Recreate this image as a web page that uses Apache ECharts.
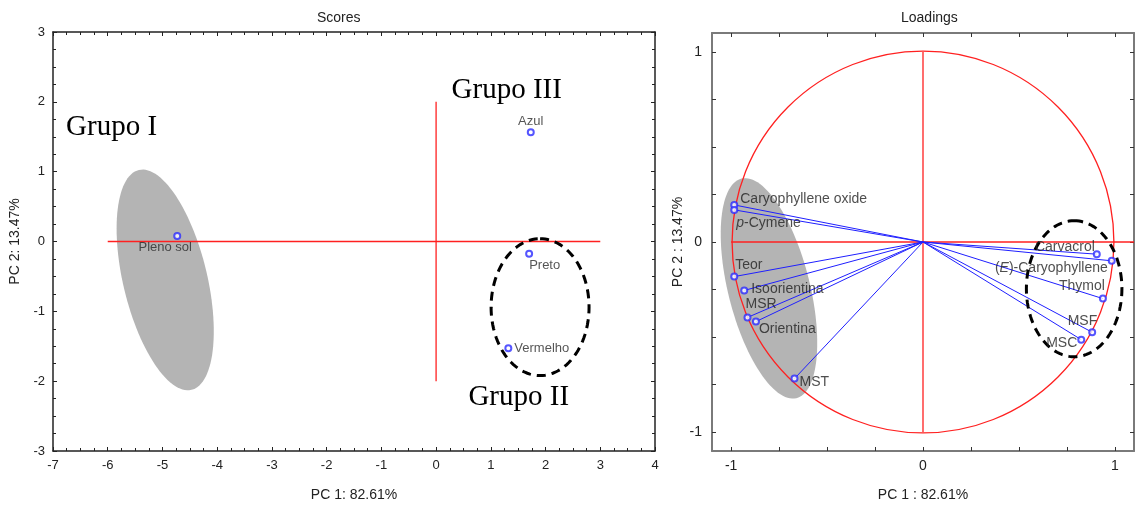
<!DOCTYPE html>
<html>
<head>
<meta charset="utf-8">
<script src="https://cdn.jsdelivr.net/npm/echarts@6/dist/echarts.min.js"></script>
<style>
html,body{margin:0;padding:0;background:#fff;}
#chart{width:1135px;height:507px;}
</style>
</head>
<body>
<div id="chart"></div>
<script>
// ---------- DATA ----------
const scoreNames = ['Pleno sol', 'Azul', 'Preto', 'Vermelho'];
const scorePC1 = [-4.73, 1.73, 1.70, 1.32];
const scorePC2 = [0.08, 1.565, -0.175, -1.53];

const loadNames = ['Caryophyllene oxide', 'p-Cymene', 'Teor', 'Isoorientina', 'MSR', 'Orientina', 'MST',
                   'Carvacrol', '(E)-Caryophyllene', 'Thymol', 'MSF', 'MSC'];
const loadPC1 = [-0.984, -0.984, -0.984, -0.932, -0.915, -0.871, -0.670, 0.906, 0.984, 0.938, 0.882, 0.825];
const loadPC2 = [0.195, 0.169, -0.182, -0.255, -0.397, -0.419, -0.719, -0.064, -0.099, -0.298, -0.475, -0.514];

const groupNames = ['Grupo I', 'Grupo III', 'Grupo II'];
const groupPC1 = [-5.93, 1.29, 1.51];
const groupPC2 = [1.63, 2.16, -2.23];

const scoreXTicks = [-7, -6, -5, -4, -3, -2, -1, 0, 1, 2, 3, 4];
const scoreYTicks = [-3, -2, -1, 0, 1, 2, 3];
const loadTickLabels = [-1, 0, 1];
const loadMinorTicks = [-1, -0.75, -0.5, -0.25, 0, 0.25, 0.5, 0.75, 1];

// group ellipses (centre, half-axis vectors in data units)
const scoreGreyEllipse = {cx: -4.95, cy: -0.55, ux: -0.48, uy: 1.574, vx: 0.747, vy: 0.138};
const scoreDashEllipse = {cx: 1.90, cy: -0.94, ux: 0, uy: 0.98, vx: 0.895, vy: 0};
const loadGreyEllipse = {cx: -0.803, cy: -0.244, ux: -0.143, uy: 0.578, vx: 0.207, vy: 0.051};
const loadDashEllipse = {cx: 0.788, cy: -0.246, ux: 0, uy: 0.358, vx: 0.249, vy: 0};

// reference lines (data units): [x1, y1, x2, y2]
const scoreCross = [[-6, 0, 3, 0], [0, -2, 0, 2]];
const loadCross = [[-1, 0, 1.1, 0], [0, 1, 0, -1]];

// ---------- STYLE / LABEL PLACEMENT ----------
const scoreLabelPlace = [
  {align: 'center', offset: [-12, 12]},
  {align: 'center', offset: [0, -11]},
  {align: 'left', offset: [0, 12]},
  {align: 'left', offset: [6, 0]}
];
const loadLabelPlace = [
  {align: 'left', offset: [6, -6]},
  {align: 'left', offset: [2, 13]},
  {align: 'left', offset: [1, -11]},
  {align: 'left', offset: [7, -1]},
  {align: 'left', offset: [-2, -13]},
  {align: 'left', offset: [3, 8]},
  {align: 'left', offset: [5, 4]},
  {align: 'right', offset: [-2, -7]},
  {align: 'right', offset: [-4, 7]},
  {align: 'right', offset: [2, -12]},
  {align: 'right', offset: [5, -11]},
  {align: 'right', offset: [-4, 3]}
];

const SANS = '"Liberation Sans", Arial, sans-serif';
const SERIF = '"Liberation Serif", "Times New Roman", serif';
const BLUE = '#2b2bff';
const RED = '#ff2020';
const GREY = '#b4b4b4';

function axisCommon(color, lw) {
  return {
    axisLine: {show: true, onZero: false, lineStyle: {color: color, width: lw}},
    splitLine: {show: false},
    axisPointer: {show: false}
  };
}

function scoreAxis(kind, pos, showLabel) {
  const isX = kind === 'x';
  const vals = isX ? scoreXTicks : scoreYTicks;
  return Object.assign({
    type: 'value', gridIndex: 0, position: pos,
    min: vals[0], max: vals[vals.length - 1], interval: 1,
    axisTick: {show: true, inside: true, length: 4, lineStyle: {color: '#222'}},
    minorTick: {show: true, splitNumber: 4, length: 3, lineStyle: {color: '#222'}},
    axisLabel: {show: showLabel, color: '#222', fontSize: 13, fontFamily: SANS, margin: 8},
    name: showLabel ? (isX ? 'PC 1: 82.61%' : 'PC 2: 13.47%') : '',
    nameLocation: 'middle', nameGap: isX ? 37 : 27,
    nameTextStyle: {color: '#222', fontSize: 14, fontFamily: SANS}
  }, axisCommon('#222', 1.5));
}

function loadAxis(kind, pos, showLabel) {
  const isX = kind === 'x';
  return Object.assign({
    type: 'value', gridIndex: 1, position: pos,
    min: -1.1, max: 1.1,
    axisTick: {show: true, inside: true, length: 4, customValues: loadMinorTicks, lineStyle: {color: '#333'}},
    axisLabel: {show: showLabel, customValues: loadTickLabels, color: '#222', fontSize: 14, fontFamily: SANS, margin: isX ? 8 : 10},
    name: showLabel ? (isX ? 'PC 1 : 82.61%' : 'PC 2 : 13.47%') : '',
    nameLocation: 'middle', nameGap: isX ? 37 : 27,
    nameTextStyle: {color: '#222', fontSize: 14, fontFamily: SANS}
  }, axisCommon('#7a7a7a', 2));
}

function ellipseSeries(e, xi, yi, style, z) {
  return {
    type: 'custom', xAxisIndex: xi, yAxisIndex: yi, z: z, silent: true, clip: false,
    data: [[e.cx, e.cy]],
    renderItem: function (params, api) {
      const pts = [];
      const N = 120;
      for (let k = 0; k < N; k++) {
        const t = 2 * Math.PI * k / N;
        const c = Math.cos(t), s = Math.sin(t);
        pts.push(api.coord([e.cx + c * e.ux + s * e.vx, e.cy + c * e.uy + s * e.vy]));
      }
      return {type: 'polygon', shape: {points: pts}, style: style};
    }
  };
}

function segSeries(segs, xi, yi, color, width, z) {
  return {
    type: 'custom', xAxisIndex: xi, yAxisIndex: yi, z: z, silent: true, clip: false,
    data: segs,
    renderItem: function (params, api) {
      const a = api.coord([api.value(0), api.value(1)]);
      const b = api.coord([api.value(2), api.value(3)]);
      return {type: 'polyline', shape: {points: [a, b]},
              style: {stroke: color, fill: null, lineWidth: width}};
    }
  };
}

const series = [];

// ---- Scores panel ----
series.push(ellipseSeries(scoreGreyEllipse, 0, 0, {fill: GREY, stroke: null}, 1));
series.push(segSeries(scoreCross, 0, 0, RED, 1.3, 8));
series.push(ellipseSeries(scoreDashEllipse, 0, 0, {fill: null, stroke: '#000', lineWidth: 3, lineDash: [9, 6]}, 9));
series.push({
  type: 'scatter', xAxisIndex: 0, yAxisIndex: 0, z: 10,
  symbol: 'emptyCircle', symbolSize: 6,
  itemStyle: {color: BLUE, borderColor: BLUE, borderWidth: 1.2},
  data: scorePC1.map((x, i) => ({
    value: [x, scorePC2[i]],
    label: {align: scoreLabelPlace[i].align, offset: scoreLabelPlace[i].offset}
  })),
  label: {
    show: true, position: 'inside', verticalAlign: 'middle',
    color: '#2a2a2a', fontSize: 13, fontFamily: SANS,
    formatter: p => scoreNames[p.dataIndex]
  }
});
series.push({
  type: 'custom', xAxisIndex: 0, yAxisIndex: 0, z: 11, silent: true, clip: false,
  data: groupPC1.map((x, i) => [x, groupPC2[i]]),
  renderItem: function (params, api) {
    const p = api.coord([api.value(0), api.value(1)]);
    return {type: 'text', x: p[0], y: p[1],
            style: {text: groupNames[params.dataIndex], fill: '#000', font: '29px ' + SERIF,
                    textAlign: 'center', textVerticalAlign: 'middle'}};
  }
});

// ---- Loadings panel ----
series.push(ellipseSeries(loadGreyEllipse, 2, 2, {fill: GREY, stroke: null}, 1));
series.push({
  type: 'custom', xAxisIndex: 2, yAxisIndex: 2, z: 7, silent: true, clip: false,
  data: [[0, 0]],
  renderItem: function (params, api) {
    const c = api.coord([0, 0]);
    const r = api.size([1, 1]);
    return {type: 'circle', shape: {cx: c[0], cy: c[1], r: (r[0] + r[1]) / 2},
            style: {fill: null, stroke: RED, lineWidth: 1.3}};
  }
});
series.push(segSeries(loadCross, 2, 2, RED, 1.3, 8));
series.push({
  type: 'custom', xAxisIndex: 2, yAxisIndex: 2, z: 8, silent: true, clip: false,
  data: loadPC1.map((x, i) => [x, loadPC2[i]]),
  renderItem: function (params, api) {
    const a = api.coord([0, 0]);
    const b = api.coord([api.value(0), api.value(1)]);
    return {type: 'line', shape: {x1: a[0], y1: a[1], x2: b[0], y2: b[1]},
            style: {stroke: '#1f1fff', lineWidth: 1}};
  }
});
series.push(ellipseSeries(loadDashEllipse, 2, 2, {fill: null, stroke: '#000', lineWidth: 3, lineDash: [9, 6]}, 9));
series.push({
  type: 'scatter', xAxisIndex: 2, yAxisIndex: 2, z: 10,
  symbol: 'emptyCircle', symbolSize: 6,
  itemStyle: {color: BLUE, borderColor: BLUE, borderWidth: 1.2},
  data: loadPC1.map((x, i) => ({
    value: [x, loadPC2[i]],
    label: {align: loadLabelPlace[i].align, offset: loadLabelPlace[i].offset}
  })),
  label: {
    show: true, position: 'inside', verticalAlign: 'middle',
    color: '#222', fontSize: 14, fontFamily: SANS,
    formatter: function (p) {
      const n = loadNames[p.dataIndex];
      if (n === 'p-Cymene') return '{i|p}-Cymene';
      if (n === '(E)-Caryophyllene') return '({i|E})-Caryophyllene';
      return n;
    },
    rich: {i: {fontStyle: 'italic', color: '#222', fontSize: 14, fontFamily: SANS}}
  }
});

const option = {
  backgroundColor: '#fff',
  animation: false,
  title: [
    {text: 'Scores', left: 312, top: 6, textStyle: {fontSize: 14, fontWeight: 'normal', color: '#222', fontFamily: SANS}},
    {text: 'Loadings', left: 896, top: 6, textStyle: {fontSize: 14, fontWeight: 'normal', color: '#222', fontFamily: SANS}}
  ],
  grid: [
    {left: 53, right: 480, top: 32, bottom: 52},
    {left: 712, right: 1, top: 33, bottom: 51}
  ],
  xAxis: [
    scoreAxis('x', 'bottom', true),
    scoreAxis('x', 'top', false),
    loadAxis('x', 'bottom', true),
    loadAxis('x', 'top', false)
  ],
  yAxis: [
    scoreAxis('y', 'left', true),
    scoreAxis('y', 'right', false),
    loadAxis('y', 'left', true),
    loadAxis('y', 'right', false)
  ],
  series: series
};

const chart = echarts.init(document.getElementById('chart'), null, {renderer: 'canvas'});
chart.setOption(option);
</script>
</body>
</html>
